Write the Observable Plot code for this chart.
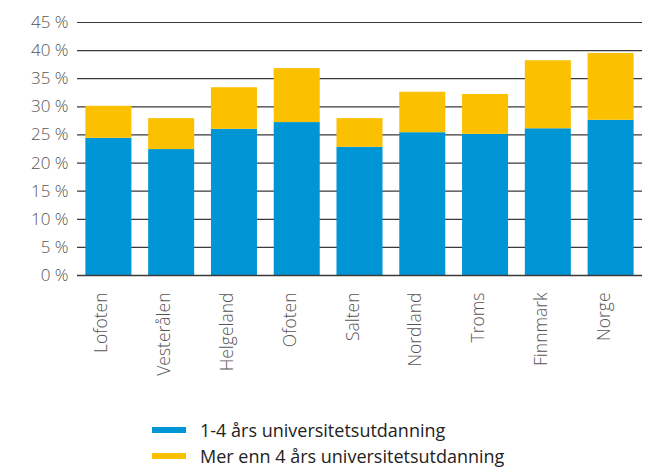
<!DOCTYPE html>
<html>
<head>
<meta charset="utf-8">
<script src="https://cdn.jsdelivr.net/npm/d3@7"></script>
<script src="https://cdn.jsdelivr.net/npm/@observablehq/plot@0.6"></script>
<style>
  body { margin: 0; background: #fff; }
  #chart svg { display: block; }
  .legend { font-family: "Open Sans", sans-serif; font-size: 18px; color: #222; margin-left: 152px; margin-top: 22px; }
  .legend .row { display: flex; align-items: center; height: 26px; }
  .legend .sw { width: 34px; height: 6px; margin-right: 14px; }
</style>
</head>
<body>
<div id="chart"></div>
<script>
const regions = ["Lofoten", "Vesterålen", "Helgeland", "Ofoten", "Salten", "Nordland", "Troms", "Finnmark", "Norge"];
const seriesNames = ["1-4 års universitetsutdanning", "Mer enn 4 års universitetsutdanning"];
const lower = [24.4, 22.4, 26.0, 27.2, 22.8, 25.4, 25.1, 26.1, 27.6];
const upper = [5.7, 5.5, 7.4, 9.6, 5.1, 7.2, 7.1, 12.1, 11.9];
const yTicks = [0, 5, 10, 15, 20, 25, 30, 35, 40, 45];
const colors = ["#0096d6", "#fbc000"];

const data = regions.flatMap((r, i) => [
  {region: r, series: seriesNames[0], value: lower[i]},
  {region: r, series: seriesNames[1], value: upper[i]}
]);

const chart = Plot.plot({
  width: 662,
  height: 395,
  marginLeft: 77,
  marginRight: 20,
  marginTop: 22,
  marginBottom: 120,
  style: {fontFamily: "'Open Sans', sans-serif", fontSize: "17px", color: "#555", fontWeight: 300},
  x: {domain: regions, paddingInner: 0.267, paddingOuter: 0.1335, round: false, label: null},
  y: {domain: [0, 45], label: null},
  color: {domain: seriesNames, range: colors},
  marks: [
    Plot.ruleY(yTicks, {stroke: "#3a3a3a", strokeWidth: 1.2}),
    Plot.barY(data, {x: "region", y: "value", fill: "series"}),
    Plot.ruleY([0], {stroke: "#3a3a3a", strokeWidth: 1.5}),
    Plot.axisY({ticks: yTicks, tickFormat: d => d + " %", tickSize: 0, tickPadding: 9, fontSize: 17, label: null}),
    Plot.axisX({tickRotate: -90, tickSize: 0, tickPadding: 17, dx: -7, fontSize: 17.5, label: null})
  ]
});
document.getElementById("chart").appendChild(chart);

const legend = document.createElement("div");
legend.className = "legend";
seriesNames.forEach((s, i) => {
  const row = document.createElement("div");
  row.className = "row";
  const sw = document.createElement("span");
  sw.className = "sw";
  sw.style.background = colors[i];
  const t = document.createElement("span");
  t.textContent = s;
  row.appendChild(sw);
  row.appendChild(t);
  legend.appendChild(row);
});
document.getElementById("chart").appendChild(legend);
</script>
</body>
</html>
